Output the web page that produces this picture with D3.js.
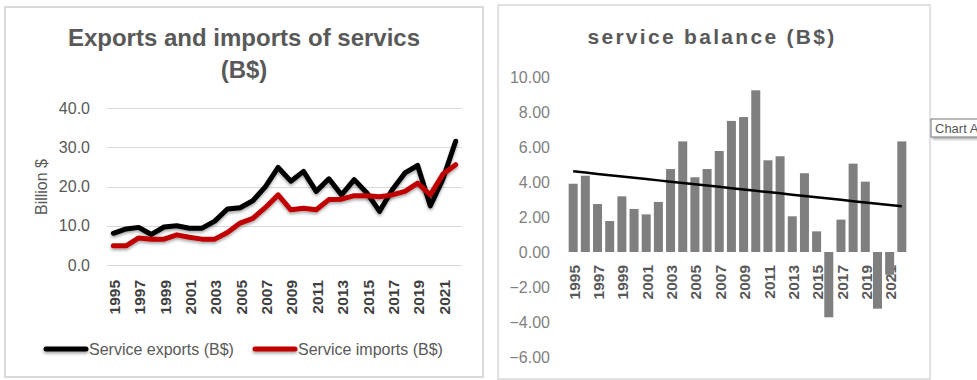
<!DOCTYPE html>
<html>
<head>
<meta charset="utf-8">
<script src="https://cdn.jsdelivr.net/npm/d3@7"></script>
<style>
  html, body { margin: 0; padding: 0; background: #fff; }
  svg { display: block; }
  text { font-family: "Liberation Sans", Arial, sans-serif; }
</style>
</head>
<body>
<svg id="chart" width="977" height="380"></svg>
<script>
// Years covered by both panels
const years = d3.range(1995, 2023);

// Services trade, billion dollars
const exportsBn = [8.1, 9.2, 9.6, 7.8, 9.7, 10.0, 9.4, 9.4, 11.2, 14.3, 14.6, 16.4, 20.0, 24.9,
                   21.4, 23.9, 18.8, 22.0, 17.9, 21.8, 18.4, 13.7, 19.2, 23.5, 25.4, 15.1, 22.0, 31.6];
const importsBn = [4.9, 4.9, 6.9, 6.6, 6.6, 7.7, 7.1, 6.6, 6.6, 8.3, 10.7, 11.9, 14.7, 17.9,
                   14.1, 14.5, 14.1, 16.7, 16.8, 17.7, 17.7, 17.4, 17.9, 18.8, 20.9, 17.9, 23.2, 25.6];

// Service balance, billion dollars
const balanceBn = [3.9, 4.36, 2.74, 1.77, 3.18, 2.46, 2.15, 2.86, 4.74, 6.32, 4.27, 4.74, 5.77, 7.49,
                   7.71, 9.24, 5.24, 5.47, 2.04, 4.5, 1.18, -3.73, 1.85, 5.05, 4.02, -3.24, -1.3, 6.32];

// Axis ticks
const leftTicks = [0, 10, 20, 30, 40];
const rightTicks = [-6, -4, -2, 0, 2, 4, 6, 8, 10];
const labelYears = years.filter(y => y % 2 === 1);

const seriesNames = ["Service exports (B$)", "Service imports (B$)"];
const seriesColors = ["#000000", "#c00000"];

const svg = d3.select("#chart");
svg.append("rect").attr("width", 977).attr("height", 380).attr("fill", "#fff");

// soft shadow under the lines (user-space region so flat legend strokes keep it too)
const defs = svg.append("defs");
const f = defs.append("filter").attr("id", "lineShadow")
  .attr("filterUnits", "userSpaceOnUse")
  .attr("x", 0).attr("y", 0).attr("width", 977).attr("height", 380);
f.append("feDropShadow").attr("dx", 0).attr("dy", 2).attr("stdDeviation", 1.6)
  .attr("flood-color", "#000").attr("flood-opacity", 0.35);
const tf = defs.append("filter").attr("id", "tipShadow")
  .attr("filterUnits", "userSpaceOnUse")
  .attr("x", 900).attr("y", 100).attr("width", 77).attr("height", 60);
tf.append("feDropShadow").attr("dx", 2).attr("dy", 2).attr("stdDeviation", 1)
  .attr("flood-color", "#000").attr("flood-opacity", 0.3);

// ---------- Left panel: line chart ----------
const L = svg.append("g");
L.append("rect").attr("x", 5).attr("y", 7).attr("width", 478).attr("height", 370)
  .attr("fill", "#fff").attr("stroke", "#d9d9d9").attr("stroke-width", 2);

L.append("text").attr("x", 244).attr("y", 46).attr("text-anchor", "middle")
  .attr("font-size", 24).attr("font-weight", "bold").attr("fill", "#595959")
  .text("Exports and imports of servics");
L.append("text").attr("x", 244).attr("y", 78).attr("text-anchor", "middle")
  .attr("font-size", 24).attr("font-weight", "bold").attr("fill", "#595959")
  .text("(B$)");

const xL = d3.scaleBand().domain(years).range([107, 462]);
const yL = d3.scaleLinear().domain([0, 40]).range([265, 108.3]);
const cx = d => xL(d) + xL.bandwidth() / 2;

// gridlines
L.append("g").selectAll("line").data(leftTicks).join("line")
  .attr("x1", 107).attr("x2", 462)
  .attr("y1", d => Math.round(yL(d)) + 0.5).attr("y2", d => Math.round(yL(d)) + 0.5)
  .attr("stroke", "#d9d9d9").attr("stroke-width", 1.2);

// y axis labels
const yAxisL = L.append("g").attr("transform", "translate(90,0)")
  .call(d3.axisLeft(yL).tickValues(leftTicks).tickFormat(d3.format(".1f")).tickSize(0).tickPadding(0));
yAxisL.select(".domain").remove();
yAxisL.selectAll("text").attr("font-size", 16).attr("fill", "#595959")
  .attr("font-family", "Liberation Sans, Arial, sans-serif");

L.append("text").attr("transform", "translate(47,187) rotate(-90)")
  .attr("text-anchor", "middle").attr("font-size", 16).attr("fill", "#595959")
  .text("Billion $");

// x axis year labels (rotated)
const xAxisL = L.append("g").attr("transform", "translate(0,280)")
  .call(d3.axisBottom(xL).tickValues(labelYears).tickSize(0).tickPadding(0));
xAxisL.select(".domain").remove();
xAxisL.selectAll(".tick").attr("transform", d => `translate(${cx(d) + 1},0)`);
xAxisL.selectAll(".tick text")
  .attr("transform", "rotate(-90)").attr("text-anchor", "end")
  .attr("x", 0).attr("y", 0).attr("dy", "0.36em")
  .attr("font-size", 15.5).attr("font-weight", "bold").attr("fill", "#404040")
  .attr("font-family", "Liberation Sans, Arial, sans-serif");

// lines
const lineGen = d3.line().x((d, i) => cx(years[i])).y(d => yL(d)).curve(d3.curveLinear);
[exportsBn, importsBn].forEach((vals, k) => {
  L.append("path").datum(vals).attr("d", lineGen)
    .attr("fill", "none").attr("stroke", seriesColors[k]).attr("stroke-width", 5)
    .attr("stroke-linejoin", "round").attr("stroke-linecap", "round")
    .attr("filter", "url(#lineShadow)");
});

// legend
const legendPos = [{ x1: 46, x2: 86, tx: 89 }, { x1: 255, x2: 295, tx: 298 }];
seriesNames.forEach((name, k) => {
  const p = legendPos[k];
  L.append("line").attr("x1", p.x1).attr("x2", p.x2).attr("y1", 349).attr("y2", 349)
    .attr("stroke", seriesColors[k]).attr("stroke-width", 5).attr("stroke-linecap", "round")
    .attr("filter", "url(#lineShadow)");
  L.append("text").attr("x", p.tx).attr("y", 349).attr("dy", "0.35em")
    .attr("font-size", 16).attr("fill", "#595959").text(name);
});

// ---------- Right panel: bar chart with trend ----------
const R = svg.append("g");
R.append("rect").attr("x", 498).attr("y", 5).attr("width", 432).attr("height", 374)
  .attr("fill", "#fff").attr("stroke", "#d9d9d9").attr("stroke-width", 1.5);

R.append("text").attr("x", 712).attr("y", 44).attr("text-anchor", "middle")
  .attr("font-size", 21).attr("font-weight", "bold").attr("fill", "#595959")
  .attr("letter-spacing", 2.3).text("service balance (B$)");

const xR = d3.scaleBand().domain(years).range([567.1, 907.9]).paddingInner(0.26).paddingOuter(0.13);
const yR = d3.scaleLinear().domain([-6, 10]).range([357, 77]);
const cxR = d => xR(d) + xR.bandwidth() / 2;

const yAxisR = R.append("g").attr("transform", "translate(550,0)")
  .call(d3.axisLeft(yR).tickValues(rightTicks).tickFormat(d3.format(".2f")).tickSize(0).tickPadding(0));
yAxisR.select(".domain").remove();
yAxisR.selectAll("text").attr("font-size", 16).attr("fill", "#7f7f7f")
  .attr("font-family", "Liberation Sans, Arial, sans-serif");

const xAxisR = R.append("g").attr("transform", "translate(0,265)")
  .call(d3.axisBottom(xR).tickValues(labelYears).tickSize(0).tickPadding(0));
xAxisR.select(".domain").remove();
xAxisR.selectAll(".tick").attr("transform", d => `translate(${cxR(d) + 1},0)`);
xAxisR.selectAll(".tick text")
  .attr("transform", "rotate(-90)").attr("text-anchor", "end")
  .attr("x", 0).attr("y", 0).attr("dy", "0.36em")
  .attr("font-size", 15.5).attr("font-weight", "bold").attr("fill", "#595959")
  .attr("font-family", "Liberation Sans, Arial, sans-serif");

// bars drawn over the labels
R.append("g").selectAll("rect").data(balanceBn).join("rect")
  .attr("x", (d, i) => xR(years[i]))
  .attr("width", xR.bandwidth())
  .attr("y", d => yR(Math.max(0, d)))
  .attr("height", d => Math.abs(yR(d) - yR(0)))
  .attr("fill", "#7f7f7f");

// linear least-squares trend of the balance
const n = years.length;
const xs = d3.range(n);
const mx = d3.mean(xs), my = d3.mean(balanceBn);
const slope = d3.sum(xs, i => (i - mx) * (balanceBn[i] - my)) / d3.sum(xs, i => (i - mx) ** 2);
const trend = xs.map(i => my + slope * (i - mx));
R.append("path").datum(trend)
  .attr("d", d3.line().x((d, i) => cxR(years[i])).y(d => yR(d)))
  .attr("fill", "none").attr("stroke", "#000").attr("stroke-width", 2.5);

// hover tip at the panel edge
const tip = svg.append("g");
tip.append("rect").attr("x", 931).attr("y", 119).attr("width", 60).attr("height", 18)
  .attr("fill", "#fff").attr("stroke", "#767676").attr("stroke-width", 1)
  .attr("filter", "url(#tipShadow)");
tip.append("text").attr("x", 935).attr("y", 132.5).attr("font-size", 13)
  .attr("font-family", "Noto Sans, DejaVu Sans, sans-serif").attr("fill", "#575757")
  .text("Chart A");
</script>
</body>
</html>
